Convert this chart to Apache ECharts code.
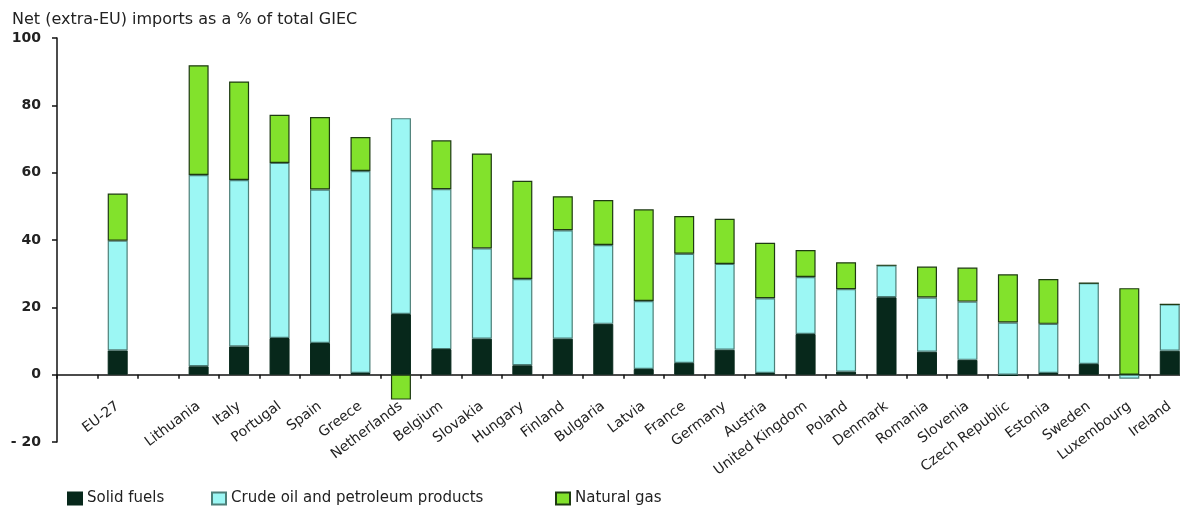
<!DOCTYPE html>
<html>
<head>
<meta charset="utf-8">
<script src="https://cdn.jsdelivr.net/npm/echarts@6/dist/echarts.min.js"></script>
<style>
  html, body { margin: 0; padding: 0; background: #fff; }
  #main { width: 1180px; height: 507px; }
</style>
</head>
<body>
<div id="main"></div>
<script>
// 国家 (前面空一格, EU-27 后面空一格)
var countries = [' ', 'EU-27', '  ', 'Lithuania', 'Italy', 'Portugal', 'Spain', 'Greece', 'Netherlands',
    'Belgium', 'Slovakia', 'Hungary', 'Finland', 'Bulgaria', 'Latvia', 'France', 'Germany', 'Austria',
    'United Kingdom', 'Poland', 'Denmark', 'Romania', 'Slovenia', 'Czech Republic', 'Estonia',
    'Sweden', 'Luxembourg', 'Ireland'];

// 固体燃料
var solidFuels = [null, 7.2, null, 2.5, 8.4, 10.9, 9.4, 0.5, 18.0,
    7.6, 10.7, 2.8, 10.7, 15.1, 1.7, 3.5, 7.4, 0.5,
    12.1, 0.9, 23.0, 6.8, 4.4, -0.4, 0.5,
    3.2, 0, 7.1];

// 原油和石油产品
var crudeOil = [null, 32.6, null, 56.8, 49.4, 52.0, 45.6, 60.0, 58.2,
    47.5, 26.8, 25.6, 32.2, 23.4, 20.2, 32.4, 25.5, 22.2,
    16.9, 24.5, 9.5, 16.1, 17.3, 15.5, 14.6,
    24.0, -1.2, 13.8];

// 天然气
var naturalGas = [null, 14.0, null, 32.6, 29.3, 14.3, 21.5, 10.1, -7.4,
    14.5, 28.2, 29.2, 10.1, 13.4, 27.2, 11.2, 13.4, 16.5,
    8.0, 8.0, 0, 9.2, 10.1, 14.3, 13.3,
    0, 25.7, 0];

var yTicks = [-20, 0, 20, 40, 60, 80, 100];

var legendNames = ['Solid fuels', 'Crude oil and petroleum products', 'Natural gas'];

var myChart = echarts.init(document.getElementById('main'));

// x轴放在0的位置 (grid 高 404px, 0 在 -20 上面 1/6)
var gridTop = 38, gridBottom = 65;
var zeroShift = -(507 - gridTop - gridBottom) * 20 / 120;

function legendItem(name, left) {
    return {
        left: left,
        bottom: 1,
        padding: 0,
        itemWidth: 14,
        itemHeight: 12,
        itemGap: 0,
        icon: 'rect',
        textStyle: { fontSize: 15, color: '#222' },
        data: [name]
    };
}

var option = {
    animation: false,
    textStyle: { fontFamily: 'DejaVu Sans' },
    title: {
        text: 'Net (extra-EU) imports as a % of total GIEC',
        left: 7,
        top: 7,
        textStyle: { fontSize: 16, fontWeight: 'normal', color: '#222' }
    },
    legend: [
        legendItem(legendNames[0], 67),
        legendItem(legendNames[1], 211),
        legendItem(legendNames[2], 555)
    ],
    grid: {
        left: 57,
        right: -10,
        top: gridTop,
        bottom: gridBottom,
        outerBoundsMode: 'none'
    },
    xAxis: {
        type: 'category',
        data: countries,
        offset: zeroShift,
        axisLine: { onZero: false, lineStyle: { color: '#111', width: 1.5 } },
        axisTick: { show: true, length: 4, lineStyle: { color: '#111', width: 1.5 } },
        axisLabel: {
            interval: 0,
            rotate: 37,
            margin: 30,
            fontSize: 14,
            color: '#222'
        }
    },
    yAxis: {
        type: 'value',
        min: yTicks[0],
        max: yTicks[yTicks.length - 1],
        interval: 20,
        splitLine: { show: false },
        axisLine: { show: true, lineStyle: { color: '#111', width: 1.5 } },
        axisTick: { show: true, length: 5, lineStyle: { color: '#111', width: 1.5 } },
        axisLabel: {
            margin: 16,
            fontSize: 14,
            fontWeight: 'bold',
            color: '#222',
            formatter: function (v) {
                return v < 0 ? '- ' + Math.abs(v) : String(v);
            }
        }
    },
    series: [
        {
            name: legendNames[0],
            type: 'bar',
            stack: 'all',
            barWidth: 20,
            data: solidFuels,
            itemStyle: { color: '#07281b', borderColor: '#07281b', borderWidth: 1 }
        },
        {
            name: legendNames[1],
            type: 'bar',
            stack: 'all',
            barWidth: 20,
            data: crudeOil,
            itemStyle: { color: '#9cf7f4', borderColor: '#4d7f78', borderWidth: 1.2 }
        },
        {
            name: legendNames[2],
            type: 'bar',
            stack: 'all',
            barWidth: 20,
            data: naturalGas,
            itemStyle: { color: '#82e22c', borderColor: '#1e3a12', borderWidth: 1.2 }
        }
    ]
};

myChart.setOption(option);
</script>
</body>
</html>
